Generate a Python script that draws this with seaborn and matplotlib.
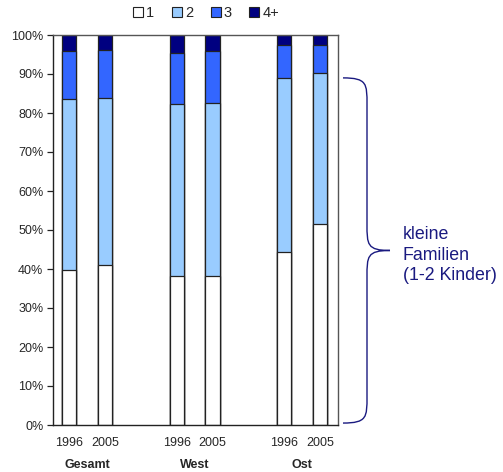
import matplotlib
matplotlib.use("Agg")
import matplotlib.pyplot as plt
from matplotlib.patches import Patch, PathPatch
from matplotlib.path import Path
import matplotlib.transforms as mtransforms
import seaborn as sns
import pandas as pd
import numpy as np

# Share of families by number of children (percent)
positions = [0, 1, 3, 4, 6, 7]
years = ["1996", "2005", "1996", "2005", "1996", "2005"]
groups = ["Gesamt", "West", "Ost"]
group_centers = [0.5, 3.5, 6.5]
series = ["1", "2", "3", "4+"]
one_child = [39.7, 41.0, 38.3, 38.3, 44.4, 51.5]
two_children = [44.0, 42.9, 43.9, 44.2, 44.5, 38.7]
three_children = [12.3, 12.3, 13.2, 13.5, 8.5, 7.2]
four_plus = [4.0, 3.8, 4.6, 4.0, 2.6, 2.6]
colors = ["#FFFFFF", "#99CCFF", "#3366FF", "#000080"]

sns.set_theme(style="white")
plt.rcParams["font.family"] = ["Liberation Sans", "DejaVu Sans"]

W, H = 503, 472
fig = plt.figure(figsize=(W / 100, H / 100), dpi=100)
ax = fig.add_axes([53 / W, (H - 425) / H, (338 - 53) / W, (425 - 35) / H])

layers = [one_child, two_children, three_children, four_plus]
cum = np.cumsum(np.array(layers), axis=0)

# Draw cumulative totals from the top segment down so each layer overlays the previous
for i in range(len(series) - 1, -1, -1):
    df = pd.DataFrame({"pos": positions, "val": cum[i]})
    sns.barplot(data=df, x="pos", y="val", native_scale=True, width=0.4,
                color=colors[i], saturation=1, edgecolor="#222222",
                linewidth=0.9, ax=ax, errorbar=None)

ax.set_xlim(-0.45, 7.5)
ax.set_ylim(0, 100)
ax.set_yticks(np.arange(0, 101, 10))
ax.set_yticklabels([f"{v}%" for v in range(0, 101, 10)], fontsize=9)
ax.set_xticks(positions)
ax.set_xticklabels(years, fontsize=9)
ax.tick_params(axis="x", length=0, pad=9)
ax.tick_params(axis="y", length=4, width=0.9, color="#222222", direction="out", left=True, pad=3)
ax.set_xlabel("")
ax.set_ylabel("")

for side in ["left", "bottom"]:
    ax.spines[side].set_color("#222222")
    ax.spines[side].set_linewidth(1.0)
for side in ["top", "right"]:
    ax.spines[side].set_color("#555555")
    ax.spines[side].set_linewidth(1.0)

# Region labels under the year pairs
tr_lbl = mtransforms.blended_transform_factory(ax.transData, fig.transFigure)
for gx, g in zip(group_centers, groups):
    fig.text(gx, (H - 465) / H, g, transform=tr_lbl, ha="center", va="center",
             fontsize=9, fontweight="bold")

# Legend above the plot
handles = [Patch(facecolor=c, edgecolor="#222222", linewidth=0.8) for c in colors]
fig.legend(handles, series, loc="center left", bbox_to_anchor=(133 / W, (H - 13) / H),
           ncol=4, frameon=False, fontsize=10.5, handlelength=0.7, handleheight=0.7,
           handletextpad=0.2, columnspacing=1.2, borderaxespad=0, borderpad=0)

# Curly brace marking small families (1-2 children)
tr = mtransforms.blended_transform_factory(fig.transFigure, ax.transData)
x_end, x_line, x_tip = 343 / W, 367 / W, 390 / W
top, bot = 89.0, 0.5
mid = (top + bot) / 2
r = 6.8
verts = [
    (x_end, top),
    (x_line, top), (x_line, top - 1.5), (x_line, top - r),
    (x_line, mid + r),
    (x_line, mid + 1.5), (x_line, mid), (x_tip, mid),
    (x_line, mid), (x_line, mid - 1.5), (x_line, mid - r),
    (x_line, bot + r),
    (x_line, bot + 1.5), (x_line, bot), (x_end, bot),
]
codes = [Path.MOVETO,
         Path.CURVE4, Path.CURVE4, Path.CURVE4,
         Path.LINETO,
         Path.CURVE4, Path.CURVE4, Path.CURVE4,
         Path.CURVE4, Path.CURVE4, Path.CURVE4,
         Path.LINETO,
         Path.CURVE4, Path.CURVE4, Path.CURVE4]
brace = PathPatch(Path(verts, codes), transform=tr, facecolor="none",
                  edgecolor="#1A1A80", linewidth=1.0, clip_on=False)
fig.add_artist(brace)

fig.text(403 / W, (H - 255) / H, "kleine\nFamilien\n(1-2 Kinder)", ha="left",
         va="center", fontsize=12.8, color="#1A1A80", linespacing=1.25)

fig.savefig("out.png", dpi=100)
